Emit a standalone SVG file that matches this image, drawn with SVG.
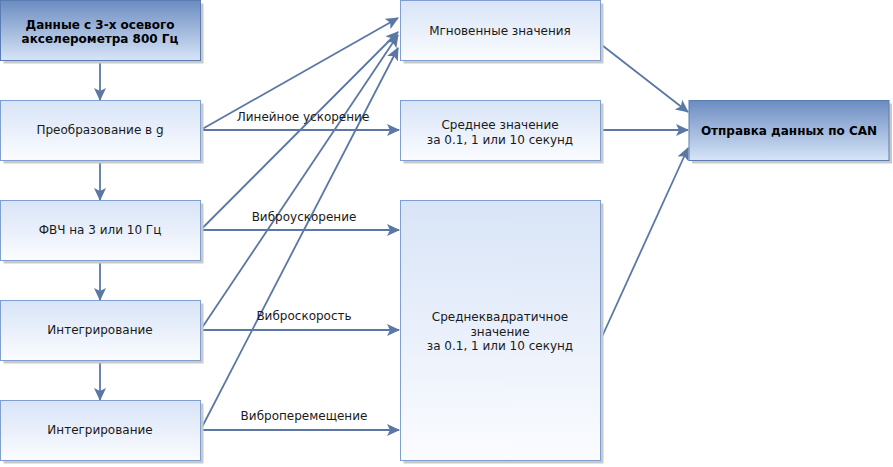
<svg xmlns="http://www.w3.org/2000/svg" width="893" height="467" viewBox="0 0 893 467">
<defs>
<linearGradient id="gl" x1="0" y1="0" x2="0" y2="1">
<stop offset="0" stop-color="#d8e4f7"/>
<stop offset="1" stop-color="#fbfcff"/>
</linearGradient>
<linearGradient id="gd" x1="0" y1="0" x2="0" y2="1">
<stop offset="0" stop-color="#6b8cc1"/>
<stop offset="1" stop-color="#d7e5f8"/>
</linearGradient>
<marker id="ah" markerUnits="userSpaceOnUse" markerWidth="14" markerHeight="12" viewBox="0 0 14 12" refX="12" refY="6" orient="auto">
<path d="M0,0 L13,6 L0,12 L3,6 Z" fill="#5a77a6"/>
</marker>
</defs>
<style>
.sh{fill:#c9c9c9}
.bl{fill:url(#gl);stroke:#7f9fd2;stroke-width:1}
.bd{fill:url(#gd);stroke:#5a7cb3;stroke-width:1}
text{font-family:"DejaVu Sans",Verdana,sans-serif;font-size:12px;fill:#1a1a1a;text-anchor:middle}
.b{font-weight:bold;fill:#000}
.c{stroke:#5a77a6;stroke-width:1.8;fill:none;marker-end:url(#ah)}
</style>

<g id="connectors">
<line class="c" x1="100" y1="60.5" x2="100" y2="100"/>
<line class="c" x1="100" y1="160.5" x2="100" y2="200"/>
<line class="c" x1="100" y1="260.5" x2="100" y2="300"/>
<line class="c" x1="100" y1="360.5" x2="100" y2="400"/>
<line class="c" x1="200.5" y1="130" x2="398" y2="18"/>
<line class="c" x1="200.5" y1="230" x2="398" y2="32"/>
<line class="c" x1="200.5" y1="330" x2="398" y2="35"/>
<line class="c" x1="200.5" y1="430" x2="398" y2="48"/>
<line class="c" x1="200.5" y1="130" x2="399" y2="130"/>
<line class="c" x1="200.5" y1="230" x2="399" y2="230"/>
<line class="c" x1="200.5" y1="330" x2="399" y2="330"/>
<line class="c" x1="200.5" y1="430" x2="399" y2="430"/>
<line class="c" x1="600.5" y1="44" x2="688" y2="112"/>
<line class="c" x1="600.5" y1="130" x2="688" y2="130"/>
<line class="c" x1="600.5" y1="340" x2="688" y2="148"/>
<text x="303" y="121">Линейное ускорение</text>
<text x="304" y="221">Виброускорение</text>
<text x="304" y="320">Виброскорость</text>
<text x="304" y="420">Виброперемещение</text>
</g>

<g id="n_src">
<rect class="sh" x="3.5" y="3.5" width="200" height="60"/>
<rect class="bd" x="0.5" y="0.5" width="200" height="60"/>
<text class="b" x="100" y="29">Данные с 3-х осевого</text>
<text class="b" x="100" y="43">акселерометра 800 Гц</text>
</g>

<g id="n_conv">
<rect class="sh" x="3.5" y="103.5" width="200" height="60"/>
<rect class="bl" x="0.5" y="100.5" width="200" height="60"/>
<text x="100" y="134">Преобразование в g</text>
</g>

<g id="n_hpf">
<rect class="sh" x="3.5" y="203.5" width="200" height="60"/>
<rect class="bl" x="0.5" y="200.5" width="200" height="60"/>
<text x="100" y="234">ФВЧ на 3 или 10 Гц</text>
</g>

<g id="n_int1">
<rect class="sh" x="3.5" y="303.5" width="200" height="60"/>
<rect class="bl" x="0.5" y="300.5" width="200" height="60"/>
<text x="100" y="334">Интегрирование</text>
</g>

<g id="n_int2">
<rect class="sh" x="3.5" y="403.5" width="200" height="60"/>
<rect class="bl" x="0.5" y="400.5" width="200" height="60"/>
<text x="100" y="434">Интегрирование</text>
</g>

<g id="n_inst">
<rect class="sh" x="403.5" y="3.5" width="200" height="60"/>
<rect class="bl" x="400.5" y="0.5" width="200" height="60"/>
<text x="500" y="35">Мгновенные значения</text>
</g>

<g id="n_avg">
<rect class="sh" x="403.5" y="103.5" width="200" height="60"/>
<rect class="bl" x="400.5" y="100.5" width="200" height="60"/>
<text x="500" y="129">Среднее значение</text>
<text x="500" y="144">за 0.1, 1 или 10 секунд</text>
</g>

<g id="n_rms">
<rect class="sh" x="403.5" y="203.5" width="200" height="260"/>
<rect class="bl" x="400.5" y="200.5" width="200" height="260"/>
<text x="500" y="321">Среднеквадратичное</text>
<text x="500" y="336">значение</text>
<text x="500" y="350">за 0.1, 1 или 10 секунд</text>
</g>

<g id="n_can">
<rect class="sh" x="692" y="103.5" width="200" height="60"/>
<rect class="bd" x="689" y="100.5" width="200" height="60"/>
<text class="b" x="789" y="135">Отправка данных по CAN</text>
</g>
</svg>
